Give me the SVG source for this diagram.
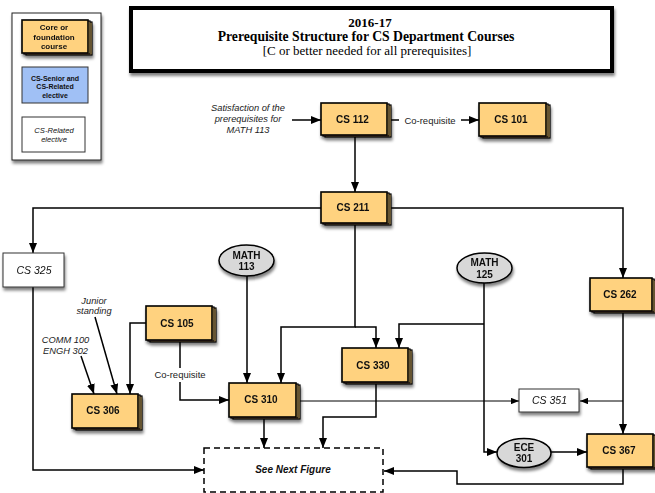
<svg xmlns="http://www.w3.org/2000/svg" width="655" height="493" viewBox="0 0 655 493">
<defs>
<filter id="sh" x="-20%" y="-20%" width="150%" height="160%">
<feGaussianBlur in="SourceAlpha" stdDeviation="1.8"/>
<feOffset dx="1" dy="3" result="o"/>
<feComponentTransfer><feFuncA type="linear" slope="0.5"/></feComponentTransfer>
<feMerge><feMergeNode/><feMergeNode in="SourceGraphic"/></feMerge>
</filter>
<marker id="ar" viewBox="0 0 10 8" refX="10" refY="4" markerWidth="10" markerHeight="8" markerUnits="userSpaceOnUse" orient="auto">
<path d="M0,0 L10,4 L0,8 z" fill="#000"/>
</marker>
<marker id="ars" viewBox="0 0 10 8" refX="10" refY="4" markerWidth="8" markerHeight="6.5" markerUnits="userSpaceOnUse" orient="auto">
<path d="M0,0 L10,4 L0,8 z" fill="#000"/>
</marker>
</defs>
<style>
text { font-family: "Liberation Sans", Arial, sans-serif; fill:#111; }
.core rect { fill:#ffd27f; stroke:#000; stroke-width:1.2; }
.core rect.f { stroke-width:1.6; }
.core text, .ell text { font-weight:bold; font-size:10px; text-anchor:middle; }
.rel rect { fill:#fff; stroke:#333; stroke-width:1; }
.rel text { font-style:italic; font-size:10.5px; text-anchor:middle; }
.ell ellipse { fill:#d8d8d8; stroke:#000; stroke-width:1.5; }
.note { font-style:italic; font-size:9.3px; text-anchor:middle; fill:#222; }
.ser { font-family: "Liberation Serif", "Times New Roman", serif; font-size:13px; text-anchor:middle; fill:#000; }
#connectors path { fill:none; stroke:#000; stroke-width:1.5; }
#connectors path.thin { stroke-width:1; }
.lbl { font-size:9.5px; text-anchor:middle; fill:#222; }
</style>

<g id="legend">
<rect x="12" y="13" width="89" height="147" fill="#fff" stroke="#222" stroke-width="1" filter="url(#sh)"/>
<g class="core" filter="url(#sh)">
<rect x="26" y="22" width="66" height="33"/>
<rect x="24" y="21" width="66" height="33"/>
<rect class="f" x="22" y="20" width="66" height="33" stroke-width="2"/>
<text x="54" y="30" style="font-size:8px">Core or</text>
<text x="54" y="39.5" style="font-size:8px">foundation</text>
<text x="54" y="49" style="font-size:8px">course</text>
</g>
<g>
<rect x="22" y="67" width="66" height="36" fill="#a0c0f5" stroke="#333" stroke-width="1"/>
<text x="55" y="80.5" style="font-size:7px;font-weight:bold;text-anchor:middle">CS-Senior and</text>
<text x="55" y="89" style="font-size:7px;font-weight:bold;text-anchor:middle">CS-Related</text>
<text x="55" y="97.5" style="font-size:7px;font-weight:bold;text-anchor:middle">elective</text>
</g>
<g>
<rect x="22" y="117" width="63" height="35" fill="#fff" stroke="#333" stroke-width="1"/>
<text x="54" y="132.5" style="font-size:7.6px;font-style:italic;text-anchor:middle">CS-Related</text>
<text x="54" y="142" style="font-size:7.6px;font-style:italic;text-anchor:middle">elective</text>
</g>
</g>

<g id="title">
<rect x="131" y="8" width="481" height="63" fill="#fff" stroke="#000" stroke-width="4" filter="url(#sh)"/>
<text class="ser" x="370" y="27" font-weight="bold">2016-17</text>
<text class="ser" x="366" y="41" font-weight="bold" style="font-size:13.7px">Prerequisite Structure for CS Department Courses</text>
<text class="ser" x="367" y="55">[C or better needed for all prerequisites]</text>
</g>

<g id="connectors">
<path d="M292,120 H321" marker-end="url(#ar)"/>
<path d="M391,120 H399"/>
<path d="M461,120 H479" marker-end="url(#ar)"/>
<path d="M355,135 V192" marker-end="url(#ar)"/>
<path d="M321,208 H33 V253" marker-end="url(#ar)"/>
<path d="M391,208 H623 V278" marker-end="url(#ar)"/>
<path d="M355,224 V327 H281 V383" marker-end="url(#ar)"/>
<path d="M355,327 H376 V348" marker-end="url(#ar)"/>
<path d="M247,276 V383" marker-end="url(#ar)"/>
<path d="M484,283 V452 H497" marker-end="url(#ar)"/>
<path d="M484,324 H399 V348" marker-end="url(#ar)"/>
<path d="M33,287 V470 H204" marker-end="url(#ar)"/>
<path d="M146,323 H130 V394" marker-end="url(#ar)"/>
<path d="M180,341 V368"/>
<path d="M180,382 V400 H229" marker-end="url(#ar)"/>
<path d="M95,317 L117,394" marker-end="url(#ar)"/>
<path d="M81,356 L94,394" marker-end="url(#ar)"/>
<path d="M264,418 V448" marker-end="url(#ar)"/>
<path d="M376,384 V417 H323 V448" marker-end="url(#ar)"/>
<path class="thin" d="M300,401 H519" marker-end="url(#ars)"/>
<path class="thin" d="M623,401 H580" marker-end="url(#ars)"/>
<path d="M623,312 V434" marker-end="url(#ar)"/>
<path d="M551,452 H587" marker-end="url(#ar)"/>
<path d="M623,468 V484 H457 V471 H384" marker-end="url(#ar)"/>
<text class="lbl" x="430" y="123.5">Co-requisite</text>
<text class="lbl" x="180" y="378">Co-requisite</text>
</g>

<g id="note-math113">
<text class="note" x="248" y="111">Satisfaction of the</text>
<text class="note" x="248" y="122">prerequisites for</text>
<text class="note" x="248" y="133">MATH 113</text>
</g>
<g id="note-junior">
<text class="note" x="94" y="304">Junior</text>
<text class="note" x="94" y="314">standing</text>
</g>
<g id="note-comm">
<text class="note" x="65.5" y="343">COMM 100</text>
<text class="note" x="65.5" y="353.5">ENGH 302</text>
</g>

<g id="cs112" class="core" filter="url(#sh)">
<rect x="325" y="105" width="66" height="32"/><rect x="323" y="104" width="66" height="32"/><rect class="f" x="321" y="103" width="66" height="32"/>
<text x="352.5" y="122.5">CS 112</text>
</g>
<g id="cs101" class="core" filter="url(#sh)">
<rect x="483" y="105" width="67" height="33"/><rect x="481" y="104" width="67" height="33"/><rect class="f" x="479" y="103" width="67" height="33"/>
<text x="511" y="122.5">CS 101</text>
</g>
<g id="cs211" class="core" filter="url(#sh)">
<rect x="325" y="194" width="66" height="31"/><rect x="323" y="193" width="66" height="31"/><rect class="f" x="321" y="192" width="66" height="31"/>
<text x="353" y="211">CS 211</text>
</g>
<g id="cs325" class="rel" filter="url(#sh)">
<rect x="3" y="253" width="61" height="34"/>
<text x="34" y="273.5">CS 325</text>
</g>
<g id="math113" class="ell" filter="url(#sh)">
<ellipse cx="246.5" cy="260.5" rx="27.5" ry="15.5"/>
<text x="246.5" y="258.5">MATH</text>
<text x="246.5" y="269.5">113</text>
</g>
<g id="math125" class="ell" filter="url(#sh)">
<ellipse cx="484.5" cy="268" rx="27.5" ry="15"/>
<text x="484.5" y="266">MATH</text>
<text x="484.5" y="277.5">125</text>
</g>
<g id="cs262" class="core" filter="url(#sh)">
<rect x="594" y="280" width="62" height="33"/><rect x="592" y="279" width="62" height="33"/><rect class="f" x="590" y="278" width="62" height="33"/>
<text x="620" y="298">CS 262</text>
</g>
<g id="cs105" class="core" filter="url(#sh)">
<rect x="150" y="308" width="66" height="34"/><rect x="148" y="307" width="66" height="34"/><rect class="f" x="146" y="306" width="66" height="34"/>
<text x="177" y="326.5">CS 105</text>
</g>
<g id="cs330" class="core" filter="url(#sh)">
<rect x="346" y="350" width="66" height="34"/><rect x="344" y="349" width="66" height="34"/><rect class="f" x="342" y="348" width="66" height="34"/>
<text x="373" y="368.5">CS 330</text>
</g>
<g id="cs306" class="core" filter="url(#sh)">
<rect x="76" y="396" width="66" height="34"/><rect x="74" y="395" width="66" height="34"/><rect class="f" x="72" y="394" width="66" height="34"/>
<text x="103" y="414">CS 306</text>
</g>
<g id="cs310" class="core" filter="url(#sh)">
<rect x="233" y="385" width="67" height="34"/><rect x="231" y="384" width="67" height="34"/><rect class="f" x="229" y="383" width="67" height="34"/>
<text x="261" y="402.5">CS 310</text>
</g>
<g id="cs351" class="rel" filter="url(#sh)">
<rect x="519" y="389" width="60" height="23"/>
<text x="549.5" y="404">CS 351</text>
</g>
<g id="ece301" class="ell" filter="url(#sh)">
<ellipse cx="524" cy="453" rx="27" ry="14.5"/>
<text x="524" y="450.5">ECE</text>
<text x="524" y="462">301</text>
</g>
<g id="cs367" class="core" filter="url(#sh)">
<rect x="591" y="436" width="66" height="33"/><rect x="589" y="435" width="66" height="33"/><rect class="f" x="587" y="434" width="66" height="33"/>
<text x="619" y="454">CS 367</text>
</g>
<g id="next">
<rect x="204" y="448" width="179" height="44" fill="none" stroke="#000" stroke-width="1.5" stroke-dasharray="6,4"/>
<text x="293" y="473" style="font-weight:bold;font-style:italic;font-size:10px;text-anchor:middle">See Next Figure</text>
</g>
</svg>
